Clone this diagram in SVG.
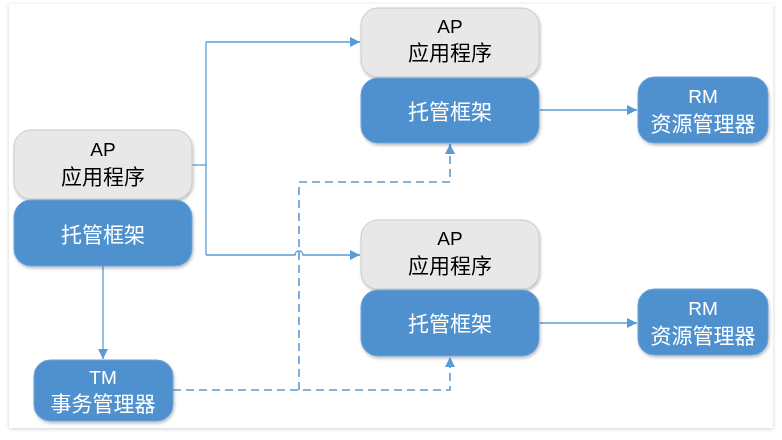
<svg xmlns="http://www.w3.org/2000/svg" width="782" height="440" viewBox="0 0 782 440">
  <defs>
    <filter id="pageShadow" x="-5%" y="-5%" width="110%" height="110%">
      <feGaussianBlur in="SourceAlpha" stdDeviation="2"/>
      <feOffset dx="0" dy="1"/>
      <feComponentTransfer><feFuncA type="linear" slope="0.18"/></feComponentTransfer>
      <feMerge><feMergeNode/><feMergeNode in="SourceGraphic"/></feMerge>
    </filter>
    <filter id="boxShadow" x="-10%" y="-10%" width="120%" height="130%">
      <feGaussianBlur in="SourceAlpha" stdDeviation="1.5"/>
      <feOffset dx="1" dy="2"/>
      <feComponentTransfer><feFuncA type="linear" slope="0.25"/></feComponentTransfer>
      <feMerge><feMergeNode/><feMergeNode in="SourceGraphic"/></feMerge>
    </filter>
    <marker id="arrow" viewBox="0 0 10 10" refX="10" refY="5" markerWidth="10" markerHeight="10" markerUnits="userSpaceOnUse" orient="auto">
      <path d="M0,0 L10,5 L0,10 Z" fill="#5B9BD5"/>
    </marker>
  </defs>
  <style>
    .app { fill: #E8E8E8; stroke: #C9C9C9; stroke-width: 1; }
    .blue { fill: #4F90CE; stroke: #6FA3D6; stroke-width: 1; }
    .lbl { font-family: "Liberation Sans", "Noto Sans CJK SC", sans-serif; font-size: 19px; text-anchor: middle; }
    .cjk { font-family: "Noto Sans CJK SC", sans-serif; font-size: 21px; text-anchor: middle; }
    .dark { fill: #000000; }
    .light { fill: #FFFFFF; }
    .line { fill: none; stroke: #5B9BD5; stroke-width: 1.3; }
    .dash { fill: none; stroke: #5B9BD5; stroke-width: 1.6; stroke-dasharray: 8 5; }
  </style>

  <rect width="782" height="440" fill="#FFFFFF"/>
  <rect x="9" y="4" width="764" height="424" fill="#FFFFFF" filter="url(#pageShadow)"/>

  <g id="connectors">
    <!-- application fan-out -->
    <path class="line" d="M192,165 H206"/>
    <path class="line" d="M206,42 V255"/>
    <path class="line" d="M206,42 H360" marker-end="url(#arrow)"/>
    <path class="line" d="M206,255 H295 A4,4 0 0 1 303,255 H360" marker-end="url(#arrow)"/>
    <!-- framework to resource managers -->
    <path class="line" d="M540,110 H637" marker-end="url(#arrow)"/>
    <path class="line" d="M540,323 H637" marker-end="url(#arrow)"/>
    <!-- framework to transaction manager -->
    <path class="line" d="M103,266 V359" marker-end="url(#arrow)"/>
    <!-- transaction manager coordination -->
    <path class="dash" d="M173,390 H450 V357" marker-end="url(#arrow)"/>
    <path class="dash" d="M299,390 V182 H450 V144" marker-end="url(#arrow)"/>
  </g>

  <g id="ap-left" filter="url(#boxShadow)">
    <rect class="app" x="14" y="130" width="178" height="69" rx="17"/>
    <text class="lbl dark" x="103" y="156">AP</text>
    <text class="cjk dark" x="103" y="184">应用程序</text>
  </g>
  <g id="fw-left" filter="url(#boxShadow)">
    <rect class="blue" x="14" y="200" width="178" height="66" rx="17"/>
    <text class="cjk light" x="103" y="242">托管框架</text>
  </g>

  <g id="ap-top" filter="url(#boxShadow)">
    <rect class="app" x="361" y="8" width="178" height="69" rx="17"/>
    <text class="lbl dark" x="450" y="33">AP</text>
    <text class="cjk dark" x="450" y="60">应用程序</text>
  </g>
  <g id="fw-top" filter="url(#boxShadow)">
    <rect class="blue" x="361" y="78" width="178" height="65" rx="17"/>
    <text class="cjk light" x="450" y="119">托管框架</text>
  </g>

  <g id="ap-bottom" filter="url(#boxShadow)">
    <rect class="app" x="361" y="220" width="178" height="69" rx="17"/>
    <text class="lbl dark" x="450" y="245">AP</text>
    <text class="cjk dark" x="450" y="273">应用程序</text>
  </g>
  <g id="fw-bottom" filter="url(#boxShadow)">
    <rect class="blue" x="361" y="290" width="178" height="66" rx="17"/>
    <text class="cjk light" x="450" y="331">托管框架</text>
  </g>

  <g id="rm-top" filter="url(#boxShadow)">
    <rect class="blue" x="638" y="77" width="130" height="66" rx="16"/>
    <text class="lbl light" x="703" y="103">RM</text>
    <text class="cjk light" x="703" y="131">资源管理器</text>
  </g>
  <g id="rm-bottom" filter="url(#boxShadow)">
    <rect class="blue" x="638" y="289" width="130" height="66" rx="16"/>
    <text class="lbl light" x="703" y="315">RM</text>
    <text class="cjk light" x="703" y="343">资源管理器</text>
  </g>

  <g id="tm" filter="url(#boxShadow)">
    <rect class="blue" x="34" y="360" width="139" height="61" rx="16"/>
    <text class="lbl light" x="103" y="384">TM</text>
    <text class="cjk light" x="103" y="411">事务管理器</text>
  </g>
</svg>
